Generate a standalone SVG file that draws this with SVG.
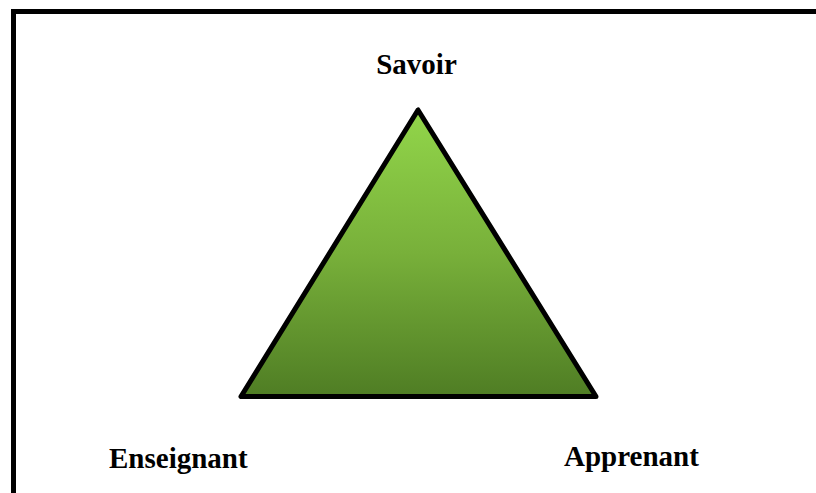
<svg xmlns="http://www.w3.org/2000/svg" width="816" height="493" viewBox="0 0 816 493">
<style>
.lbl{font-family:"Liberation Serif","Times New Roman",serif;font-weight:bold;font-size:29px;fill:#000}
</style>
<defs>
<linearGradient id="g" x1="0" y1="0" x2="0" y2="1">
<stop offset="0" stop-color="#92D64A"/>
<stop offset="0.5" stop-color="#78B03A"/>
<stop offset="1" stop-color="#4F7D24"/>
</linearGradient>
</defs>
<rect width="816" height="493" fill="#fff"/>
<rect id="frame" x="13.5" y="11.5" width="820" height="500" fill="none" stroke="#000" stroke-width="5"/>
<g id="triangle">
<polygon points="418,110 241,396.5 596,396.5" fill="url(#g)" stroke="#000" stroke-width="5" stroke-linejoin="round"/>
</g>
<g id="savoir"><text class="lbl" x="416.5" y="74" text-anchor="middle">Savoir</text></g>
<g id="enseignant"><text class="lbl" x="109" y="468">Enseignant</text></g>
<g id="apprenant"><text class="lbl" x="564" y="466">Apprenant</text></g>
<g id="connectors"></g>
</svg>
